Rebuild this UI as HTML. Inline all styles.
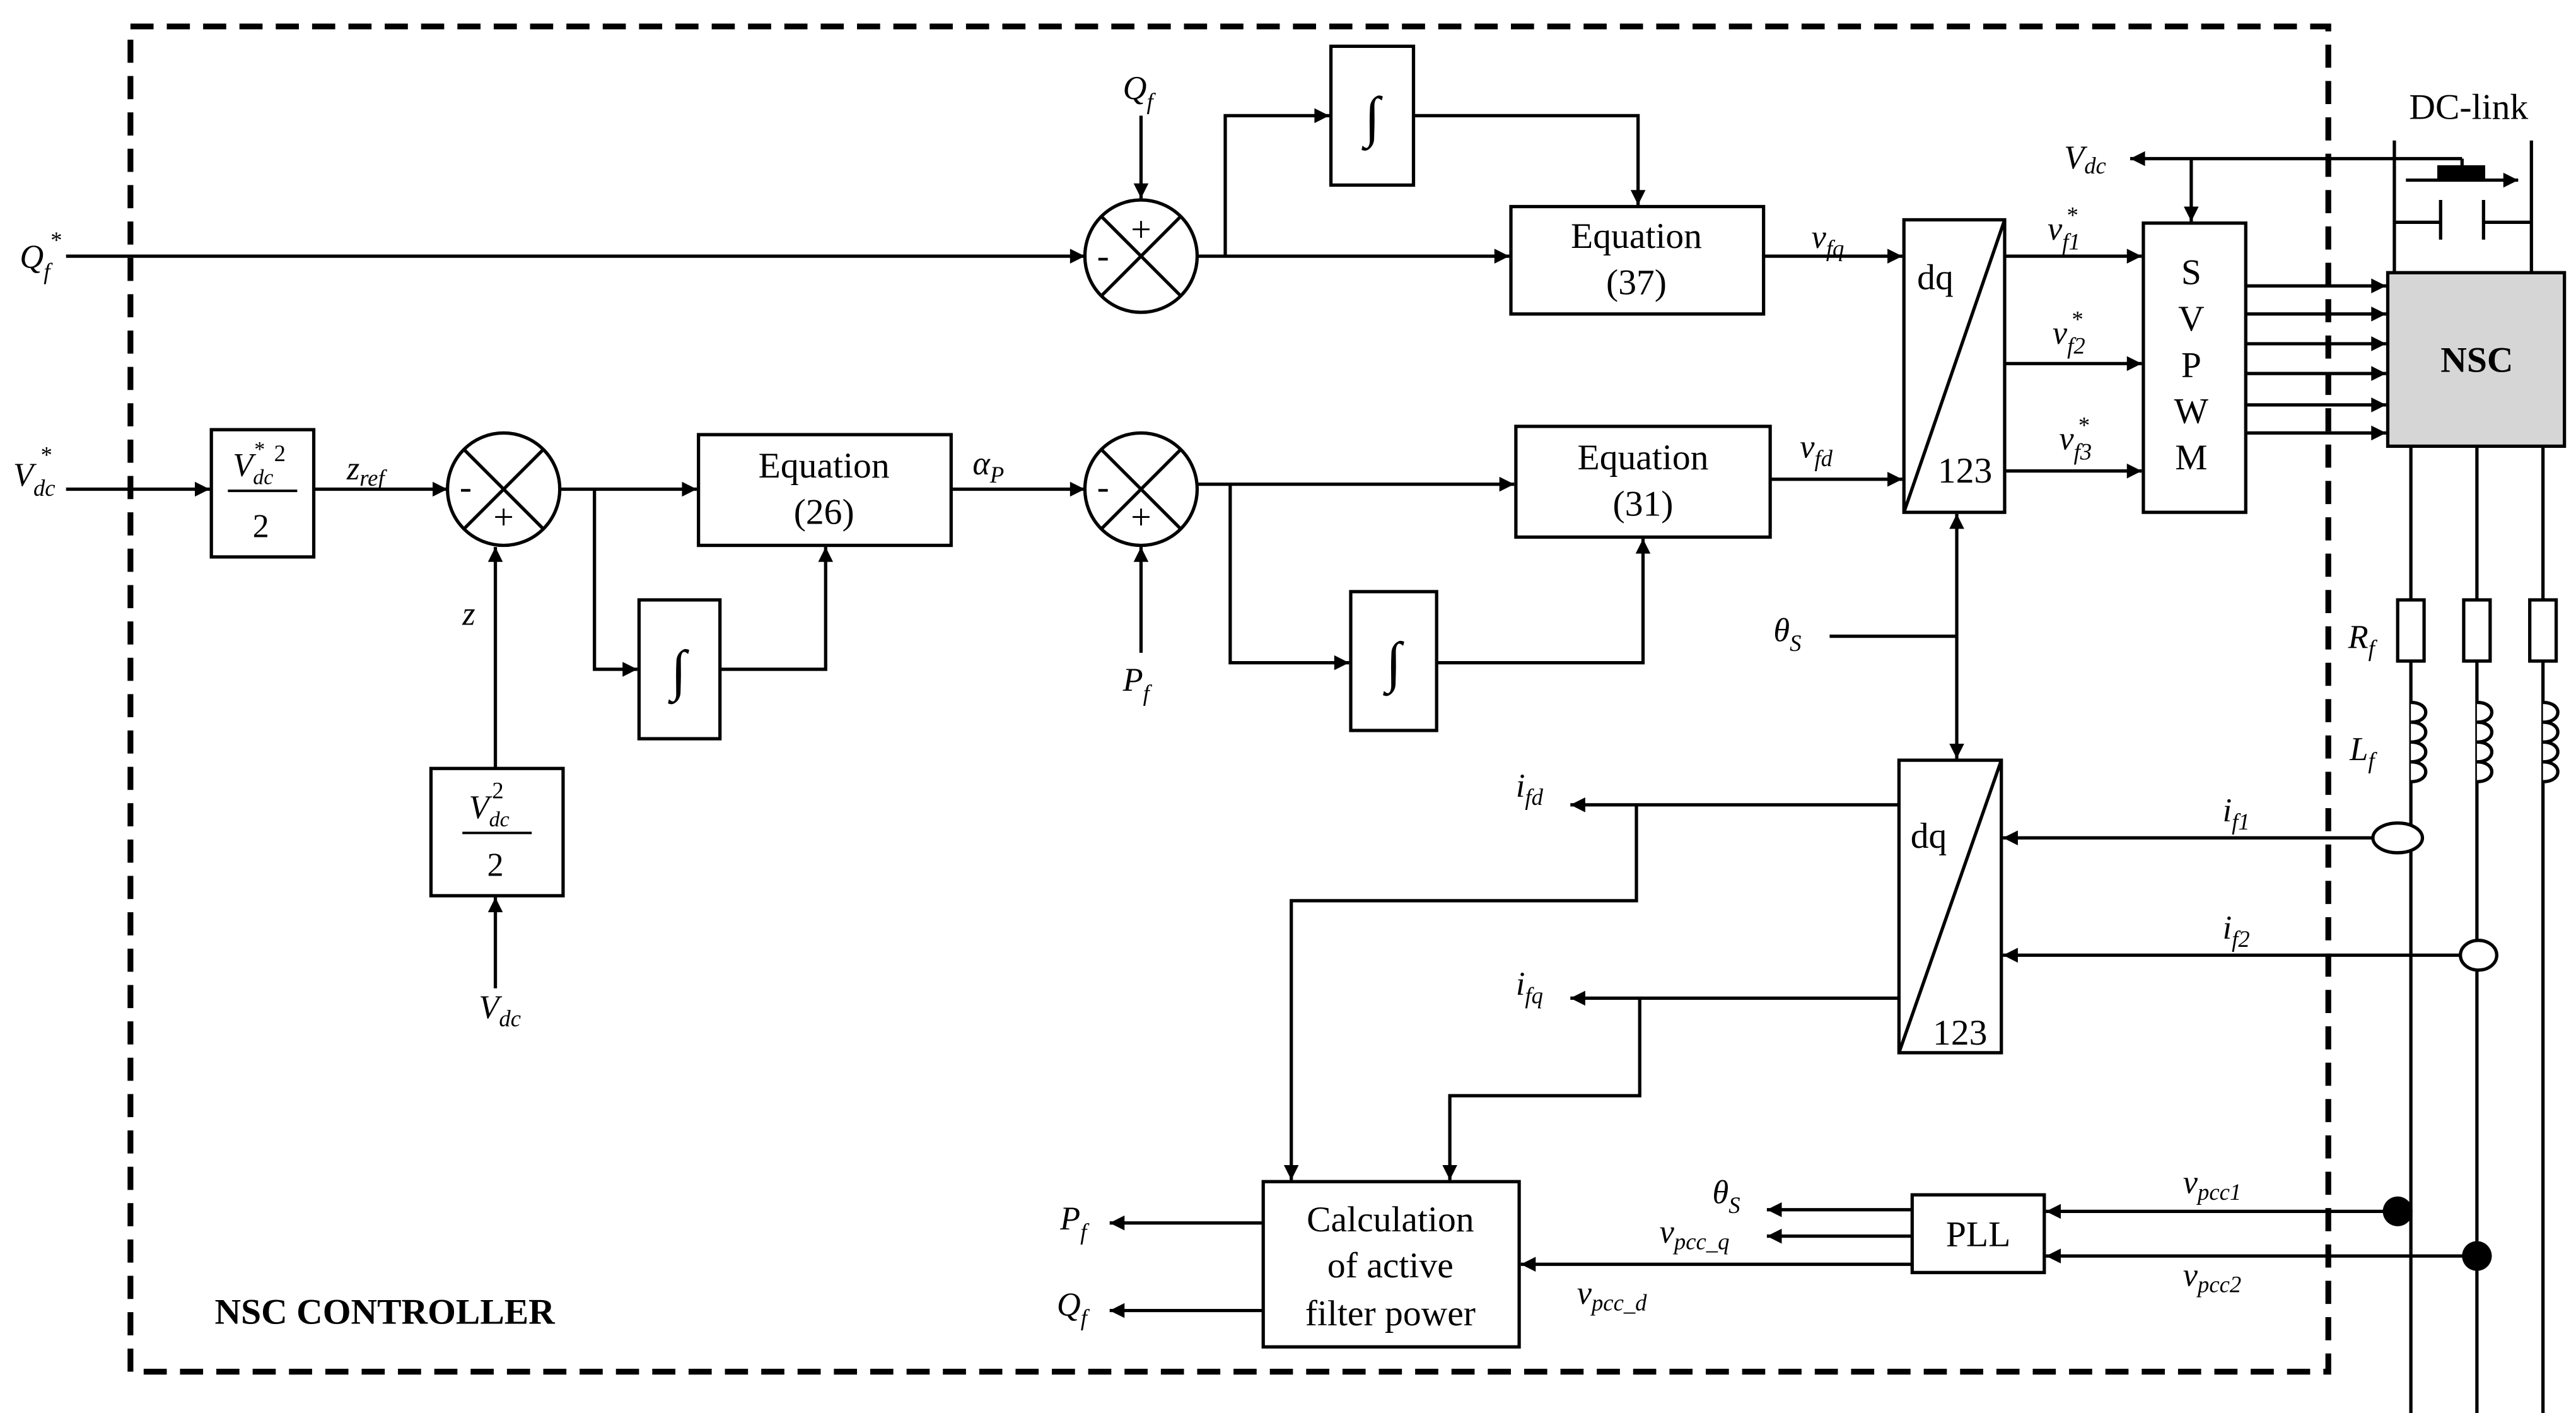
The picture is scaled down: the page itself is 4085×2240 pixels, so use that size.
<!DOCTYPE html>
<html><head><meta charset="utf-8"><style>
html,body{margin:0;padding:0;background:#fff;}
svg{display:block;}
text{font-family:"Liberation Serif",serif;fill:#000;}
.i{font-style:italic;}
</style></head><body>
<svg width="4085" height="2240" viewBox="0 0 1560 855" preserveAspectRatio="none" xmlns="http://www.w3.org/2000/svg">
<defs>
<marker id="a" viewBox="0 0 10 10" refX="10" refY="5" markerWidth="11" markerHeight="9" markerUnits="userSpaceOnUse" orient="auto">
<path d="M0,0 L10,5 L0,10 z" fill="#000"/></marker>
</defs>
<g fill="none" stroke="#000" stroke-width="2">
<rect x="79" y="16" width="1331" height="814" stroke-width="3.5" stroke-dasharray="14,8"/>

<line x1="40" y1="155" x2="657" y2="155" marker-end="url(#a)"/>
<circle cx="691" cy="155" r="34"/>
<line x1="667" y1="131" x2="715" y2="179"/><line x1="715" y1="131" x2="667" y2="179"/>
<line x1="691" y1="70" x2="691" y2="120" marker-end="url(#a)"/>
<line x1="725" y1="155" x2="914" y2="155" marker-end="url(#a)"/>
<polyline points="742,155 742,70 805,70" marker-end="url(#a)"/>
<rect x="806" y="28" width="50" height="84"/>
<polyline points="856,70 992,70 992,124" marker-end="url(#a)"/>
<rect x="915" y="125" width="153" height="65"/>
<line x1="1068" y1="155" x2="1152" y2="155" marker-end="url(#a)"/>

<rect x="1153" y="133" width="61" height="177"/>
<line x1="1153" y1="310" x2="1214" y2="133"/>
<line x1="1214" y1="155" x2="1297" y2="155" marker-end="url(#a)"/>
<line x1="1214" y1="220" x2="1297" y2="220" marker-end="url(#a)"/>
<line x1="1214" y1="285" x2="1297" y2="285" marker-end="url(#a)"/>
<rect x="1298" y="135" width="62" height="175"/>
<line x1="1491" y1="96" x2="1290" y2="96" marker-end="url(#a)"/>
<line x1="1327" y1="96" x2="1327" y2="134" marker-end="url(#a)"/>
<line x1="1360" y1="173" x2="1445" y2="173" marker-end="url(#a)"/>
<line x1="1360" y1="190" x2="1445" y2="190" marker-end="url(#a)"/>
<line x1="1360" y1="208" x2="1445" y2="208" marker-end="url(#a)"/>
<line x1="1360" y1="226" x2="1445" y2="226" marker-end="url(#a)"/>
<line x1="1360" y1="245" x2="1445" y2="245" marker-end="url(#a)"/>
<line x1="1360" y1="262" x2="1445" y2="262" marker-end="url(#a)"/>
<rect x="1446" y="165" width="107" height="105" fill="#d6d6d6"/>

<line x1="1450" y1="85" x2="1450" y2="165"/>
<line x1="1533" y1="85" x2="1533" y2="165"/>
<line x1="1491" y1="96" x2="1491" y2="102"/>
<rect x="1477" y="101" width="27" height="7" fill="#000"/>
<line x1="1457" y1="109" x2="1525" y2="109" marker-end="url(#a)"/>
<line x1="1450" y1="134.5" x2="1478" y2="134.5"/>
<line x1="1478" y1="121" x2="1478" y2="145"/>
<line x1="1504" y1="121" x2="1504" y2="145"/>
<line x1="1504" y1="134.5" x2="1533" y2="134.5"/>

<line x1="1460" y1="270" x2="1460" y2="855"/>
<line x1="1500" y1="270" x2="1500" y2="855"/>
<line x1="1540" y1="270" x2="1540" y2="855"/>
<rect x="1452" y="363" width="16" height="37" fill="#fff"/>
<rect x="1492" y="363" width="16" height="37" fill="#fff"/>
<rect x="1532" y="363" width="16" height="37" fill="#fff"/>
<path d="M1460,425 c12,0 12,12 0,12 c12,0 12,12 0,12 c12,0 12,12 0,12 c12,0 12,12 0,12" fill="#fff"/>
<path d="M1500,425 c12,0 12,12 0,12 c12,0 12,12 0,12 c12,0 12,12 0,12 c12,0 12,12 0,12" fill="#fff"/>
<path d="M1540,425 c12,0 12,12 0,12 c12,0 12,12 0,12 c12,0 12,12 0,12 c12,0 12,12 0,12" fill="#fff"/>
<ellipse cx="1452" cy="507" rx="15" ry="9" fill="#fff"/>
<ellipse cx="1501" cy="578" rx="11" ry="9" fill="#fff"/>
<line x1="1437" y1="507" x2="1213" y2="507" marker-end="url(#a)"/>
<line x1="1490" y1="578" x2="1213" y2="578" marker-end="url(#a)"/>

<rect x="1150" y="460" width="62" height="177"/>
<line x1="1150" y1="637" x2="1212" y2="460"/>
<line x1="1108" y1="385" x2="1185" y2="385"/>
<line x1="1185" y1="385" x2="1185" y2="311" marker-end="url(#a)"/>
<line x1="1185" y1="385" x2="1185" y2="459" marker-end="url(#a)"/>
<line x1="1150" y1="487" x2="951" y2="487" marker-end="url(#a)"/>
<line x1="1150" y1="604" x2="951" y2="604" marker-end="url(#a)"/>
<polyline points="991,487 991,545 782,545 782,714" marker-end="url(#a)"/>
<polyline points="993,604 993,663 878,663 878,714" marker-end="url(#a)"/>
<rect x="765" y="715" width="155" height="100"/>
<line x1="765" y1="740" x2="672" y2="740" marker-end="url(#a)"/>
<line x1="765" y1="793" x2="672" y2="793" marker-end="url(#a)"/>
<rect x="1158" y="723" width="80" height="47"/>
<line x1="1452" y1="733" x2="1239" y2="733" marker-end="url(#a)"/>
<line x1="1500" y1="760" x2="1239" y2="760" marker-end="url(#a)"/>
<line x1="1158" y1="732" x2="1070" y2="732" marker-end="url(#a)"/>
<line x1="1158" y1="748" x2="1070" y2="748" marker-end="url(#a)"/>
<line x1="1158" y1="765" x2="921" y2="765" marker-end="url(#a)"/>

<line x1="40" y1="296" x2="127" y2="296" marker-end="url(#a)"/>
<rect x="128" y="260" width="62" height="77"/>
<line x1="190" y1="296" x2="271" y2="296" marker-end="url(#a)"/>
<circle cx="305" cy="296" r="34"/>
<line x1="281" y1="272" x2="329" y2="320"/><line x1="329" y1="272" x2="281" y2="320"/>
<line x1="300" y1="465" x2="300" y2="331" marker-end="url(#a)"/>
<rect x="261" y="465" width="80" height="77"/>
<line x1="300" y1="598" x2="300" y2="543" marker-end="url(#a)"/>
<line x1="339" y1="296" x2="422" y2="296" marker-end="url(#a)"/>
<polyline points="360,296 360,405 386,405" marker-end="url(#a)"/>
<rect x="387" y="363" width="49" height="84"/>
<polyline points="436,405 500,405 500,331" marker-end="url(#a)"/>
<rect x="423" y="263" width="153" height="67"/>
<line x1="576" y1="296" x2="657" y2="296" marker-end="url(#a)"/>
<circle cx="691" cy="296" r="34"/>
<line x1="667" y1="272" x2="715" y2="320"/><line x1="715" y1="272" x2="667" y2="320"/>
<line x1="691" y1="395" x2="691" y2="331" marker-end="url(#a)"/>
<line x1="725" y1="293" x2="917" y2="293" marker-end="url(#a)"/>
<polyline points="745,293 745,401 817,401" marker-end="url(#a)"/>
<rect x="818" y="358" width="52" height="84"/>
<polyline points="870,401 995,401 995,326" marker-end="url(#a)"/>
<rect x="918" y="258" width="154" height="67"/>
<line x1="1072" y1="290" x2="1152" y2="290" marker-end="url(#a)"/>
</g>
<g fill="#000">
<circle cx="1452" cy="733" r="9"/>
<circle cx="1500" cy="760" r="9"/>
</g>
<g font-size="34" text-anchor="middle">
<text x="831" y="82">∫</text>
<text x="411" y="417">∫</text>
<text x="844" y="412">∫</text>
</g>
<g font-size="22" text-anchor="middle">
<text x="691" y="146">+</text><text x="668" y="162">-</text>
<text x="305" y="320">+</text><text x="282" y="302">-</text>
<text x="691" y="320">+</text><text x="668" y="302">-</text>
<text x="991" y="150">Equation</text><text x="991" y="178">(37)</text>
<text x="499" y="289">Equation</text><text x="499" y="317">(26)</text>
<text x="995" y="284">Equation</text><text x="995" y="312">(31)</text>
<text x="1172" y="175">dq</text><text x="1190" y="292">123</text>
<text x="1168" y="513">dq</text><text x="1187" y="632">123</text>
<text x="1327" y="172">S</text><text x="1327" y="200">V</text><text x="1327" y="228">P</text><text x="1327" y="256">W</text><text x="1327" y="284">M</text>
<text x="842" y="745">Calculation</text><text x="842" y="773">of active</text><text x="842" y="802">filter power</text>
<text x="1198" y="754">PLL</text>
<text x="1495" y="72">DC-link</text>
<text x="1500" y="225" font-weight="bold">NSC</text>
<text x="233" y="801" font-weight="bold">NSC CONTROLLER</text>
</g>
<g font-size="20" class="i">
<text x="12" y="162" class="i">Q<tspan font-size="14" dy="7">f</tspan></text>
<text x="30" y="150" font-size="14">*</text>
<text x="680" y="60" class="i">Q<tspan font-size="14" dy="6">f</tspan></text>
<text x="8" y="294" class="i">V<tspan font-size="14" dy="6">dc</tspan></text>
<text x="24" y="280" font-size="14">*</text>
<text x="210" y="290" class="i">z<tspan font-size="14" dy="4">ref</tspan></text>
<text x="280" y="378" class="i">z</text>
<text x="290" y="616" class="i">V<tspan font-size="14" dy="5">dc</tspan></text>
<text x="589" y="287" class="i">α<tspan font-size="14" dy="5">P</tspan></text>
<text x="680" y="418" class="i">P<tspan font-size="14" dy="6">f</tspan></text>
<text x="1097" y="150" class="i">v<tspan font-size="14" dy="5">fq</tspan></text>
<text x="1090" y="277" class="i">v<tspan font-size="14" dy="5">fd</tspan></text>
<text x="1240" y="145" class="i">v<tspan font-size="14" dy="6">f1</tspan></text>
<text x="1251" y="135" font-size="14">*</text>
<text x="1243" y="208" class="i">v<tspan font-size="14" dy="6">f2</tspan></text>
<text x="1254" y="198" font-size="14">*</text>
<text x="1247" y="272" class="i">v<tspan font-size="14" dy="6">f3</tspan></text>
<text x="1258" y="262" font-size="14">*</text>
<text x="1250" y="102" class="i">V<tspan font-size="14" dy="3">dc</tspan></text>
<text x="1074" y="388" class="i">θ<tspan font-size="14" dy="6">S</tspan></text>
<text x="1422" y="392" class="i">R<tspan font-size="14" dy="5">f</tspan></text>
<text x="1423" y="460" class="i">L<tspan font-size="14" dy="5">f</tspan></text>
<text x="1346" y="497" class="i">i<tspan font-size="14" dy="5">f1</tspan></text>
<text x="1346" y="568" class="i">i<tspan font-size="14" dy="5">f2</tspan></text>
<text x="918" y="482" class="i">i<tspan font-size="14" dy="5">fd</tspan></text>
<text x="918" y="602" class="i">i<tspan font-size="14" dy="5">fq</tspan></text>
<text x="642" y="744" class="i">P<tspan font-size="14" dy="6">f</tspan></text>
<text x="640" y="796" class="i">Q<tspan font-size="14" dy="6">f</tspan></text>
<text x="1037" y="728" class="i">θ<tspan font-size="14" dy="6">S</tspan></text>
<text x="1005" y="752" class="i">v<tspan font-size="14" dy="4">pcc_q</tspan></text>
<text x="955" y="789" class="i">v<tspan font-size="14" dy="4">pcc_d</tspan></text>
<text x="1322" y="722" class="i">v<tspan font-size="14" dy="4">pcc1</tspan></text>
<text x="1322" y="778" class="i">v<tspan font-size="14" dy="4">pcc2</tspan></text>
</g>
<g font-size="20">
<text x="141" y="288" class="i">V<tspan font-size="13" dy="5">dc</tspan></text>
<text x="154" y="276" font-size="13">*</text>
<text x="166" y="279" font-size="14">2</text>
<line x1="138" y1="297" x2="180" y2="297" stroke="#000" stroke-width="1.5"/>
<text x="153" y="325">2</text>
<text x="284" y="495" class="i">V<tspan font-size="13" dy="5">dc</tspan></text>
<text x="298" y="483" font-size="14">2</text>
<line x1="280" y1="504" x2="322" y2="504" stroke="#000" stroke-width="1.5"/>
<text x="295" y="530">2</text>
</g>
</svg>
</body></html>
